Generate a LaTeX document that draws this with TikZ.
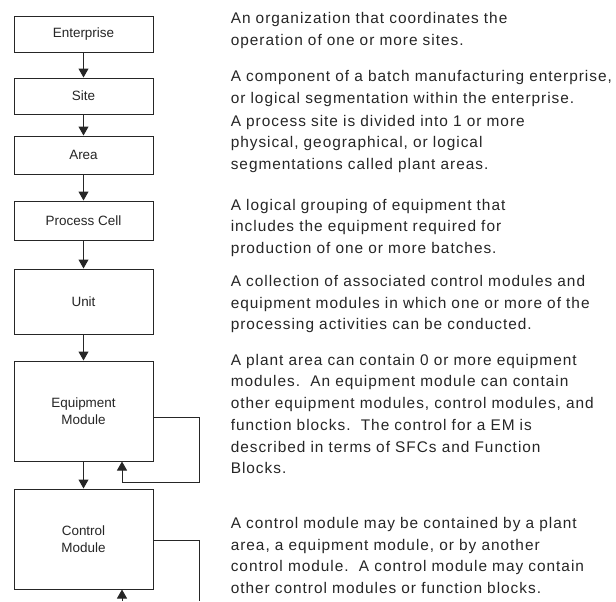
\documentclass[tikz,border=0pt]{standalone}
\usepackage{fontspec}
\setmainfont{Liberation Sans}
\newfontfamily\descfont{Liberation Sans}[LetterSpace=6.4]
\usetikzlibrary{arrows.meta}

\begin{document}
\begin{tikzpicture}[x=0.75pt,y=-0.75pt,
  level/.style={draw=black!85, line width=0.75pt, fill=white, inner sep=0pt,
    minimum width=104.25pt, align=center, text=black!85,
    font=\fontsize{10.1pt}{12.4pt}\selectfont},
  link/.style={draw=black!85, line width=0.75pt},
  flow/.style={link, -{Triangle[width=7.5pt,length=6.75pt]}},
  desc/.style={anchor=base west, inner sep=0pt, text width=300pt, align=left,
    text=black!85, font=\descfont\fontsize{11.55pt}{16.3pt}\selectfont}]

% page area
\fill[white] (0,0) rectangle (616,601);
\useasboundingbox (0,0) rectangle (616,601);

% hierarchy levels
\node[level, minimum height=27pt]   (ent)  at (83.5,34)    {Enterprise};
\node[level, minimum height=27pt]   (site) at (83.5,96)    {Site};
\node[level, minimum height=28.5pt] (area) at (83.5,155)   {Area};
\node[level, minimum height=29.25pt](cell) at (83.5,220.5) {Process Cell};
\node[level, minimum height=48.75pt](unit) at (83.5,301.5) {Unit};
\node[level, minimum height=75pt]   (em)   at (83.5,411)   {Equipment\\Module};
\node[level, minimum height=75pt]   (cm)   at (83.5,539)   {Control\\Module};

% containment arrows
\draw[flow] (ent)  -- (site);
\draw[flow] (site) -- (area);
\draw[flow] (area) -- (cell);
\draw[flow] (cell) -- (unit);
\draw[flow] (unit) -- (em);
\draw[flow] (em)   -- (cm);

% equipment module nesting loop
\coordinate (emR) at (199,417.3);
\coordinate (emB) at (199,482);
\coordinate (emC) at (122,482);
\draw[link] (emR -| em.east) -- (emR) -- (emB) -- (emC);
\draw[flow] (emC) -- (emC |- em.south);

% control module nesting loop
\coordinate (cmR) at (199,540);
\coordinate (cmB) at (199,601);
\coordinate (cmIn) at (122,601);
\draw[link] (cmR -| cm.east) -- (cmR) -- (cmB);
\draw[flow] (cmIn) -- (cmIn |- cm.south);

% descriptions
\node[desc] (dEnt) at (230.5,23.3)
  {An organization that coordinates the\\operation of one or more sites.};
\node[desc] (dSite) at (230.5,81.5)
  {A component of a batch manufacturing enterprise,\\or logical segmentation within the enterprise.};
\node[desc] (dArea) at (230.5,126.2)
  {A process site is divided into 1 or more\\physical, geographical, or logical\\segmentations called plant areas.};
\node[desc] (dCell) at (230.5,210.2)
  {A logical grouping of equipment that\\includes the equipment required for\\production of one or more batches.};
\node[desc] (dUnit) at (230.5,286.5)
  {A collection of associated control modules and\\equipment modules in which one or more of the\\processing activities can be conducted.};
\node[desc] (dEM) at (230.5,365.2)
  {A plant area can contain 0 or more equipment\\modules.\ \ An equipment module can contain\\other equipment modules, control modules, and\\function blocks.\ \ The control for a EM is\\described in terms of SFCs and Function\\Blocks.};
\node[desc] (dCM) at (230.5,528.5)
  {A control module may be contained by a plant\\area, a equipment module, or by another\\control module.\ \ A control module may contain\\other control modules or function blocks.};
\end{tikzpicture}
\end{document}
